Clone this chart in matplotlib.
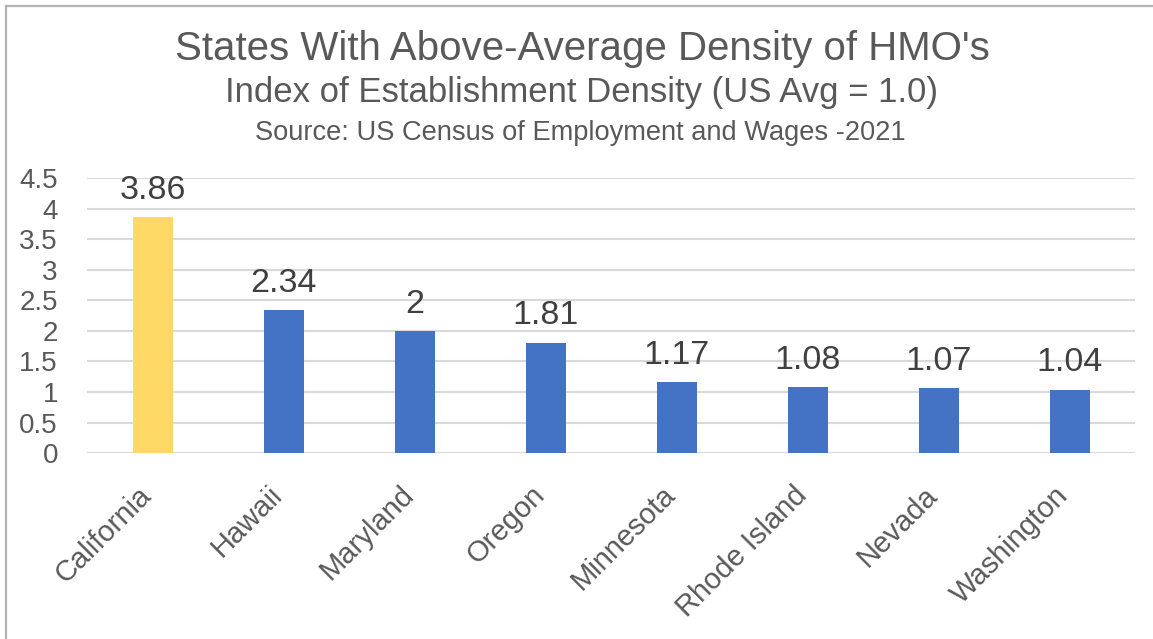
import numpy as np
import matplotlib
matplotlib.use('Agg')
import matplotlib.pyplot as plt
from matplotlib.lines import Line2D
from matplotlib.transforms import ScaledTranslation

plt.rcParams['font.family'] = ['Liberation Sans', 'DejaVu Sans']

states = ['California', 'Hawaii', 'Maryland', 'Oregon', 'Minnesota',
          'Rhode Island', 'Nevada', 'Washington']
density_index = [3.86, 2.34, 2, 1.81, 1.17, 1.08, 1.07, 1.04]
value_labels = ['3.86', '2.34', '2', '1.81', '1.17', '1.08', '1.07', '1.04']
yticks = [0, 0.5, 1, 1.5, 2, 2.5, 3, 3.5, 4, 4.5]
ytick_labels = ['0', '0.5', '1', '1.5', '2', '2.5', '3', '3.5', '4', '4.5']

gold = '#FFD966'
blue = '#4472C4'
grey_text = '#595959'

fig = plt.figure(figsize=(11.53, 6.39), dpi=100)
ax = fig.add_axes([0.0755, 0.291, 0.909, 0.430])

x = np.arange(len(states))
colors = [gold] + [blue] * (len(states) - 1)
bars = ax.bar(x, density_index, width=0.305, color=colors, zorder=3)

for b, lab in zip(bars, value_labels):
    ax.annotate(lab, (b.get_x() + b.get_width() / 2, b.get_height()),
                xytext=(0, 13), textcoords='offset points',
                ha='center', va='baseline', fontsize=24.5, color='#404040')

ax.set_xlim(-0.5, len(states) - 0.5)
ax.set_ylim(0, 4.5)
ax.set_yticks(yticks)
ax.set_yticklabels(ytick_labels, fontsize=20, color=grey_text)
ax.yaxis.grid(True, color='#d9d9d9', linewidth=1.5, zorder=0)
ax.tick_params(axis='y', length=0, pad=21)
ax.set_xticks(x)
ax.set_xticklabels(states, rotation=45, ha='right', va='top',
                   rotation_mode='anchor', fontsize=21, color=grey_text)
ax.tick_params(axis='x', length=0, pad=20)
# nudge the slanted state names left so they end under the bars
shift = ScaledTranslation(-11 / 72, 0, fig.dpi_scale_trans)
for lbl in ax.get_xticklabels():
    lbl.set_transform(lbl.get_transform() + shift)
for s in ax.spines.values():
    s.set_visible(False)

fig.text(0.505, 0.906, "States With Above-Average Density of HMO's",
         ha='center', va='baseline', fontsize=29, color=grey_text)
fig.text(0.504, 0.840, 'Index of Establishment Density (US Avg = 1.0)',
         ha='center', va='baseline', fontsize=25, color=grey_text)
fig.text(0.503, 0.781, 'Source: US Census of Employment and Wages -2021',
         ha='center', va='baseline', fontsize=19.6, color=grey_text)

# chart frame (only top and left edges show)
fig.add_artist(Line2D([0.0055, 1.0], [0.991, 0.991], color='#b3b3b3', lw=1.6))
fig.add_artist(Line2D([0.0055, 0.0055], [0.0, 0.991], color='#b3b3b3', lw=1.6))

fig.savefig('out.png', dpi=100)
